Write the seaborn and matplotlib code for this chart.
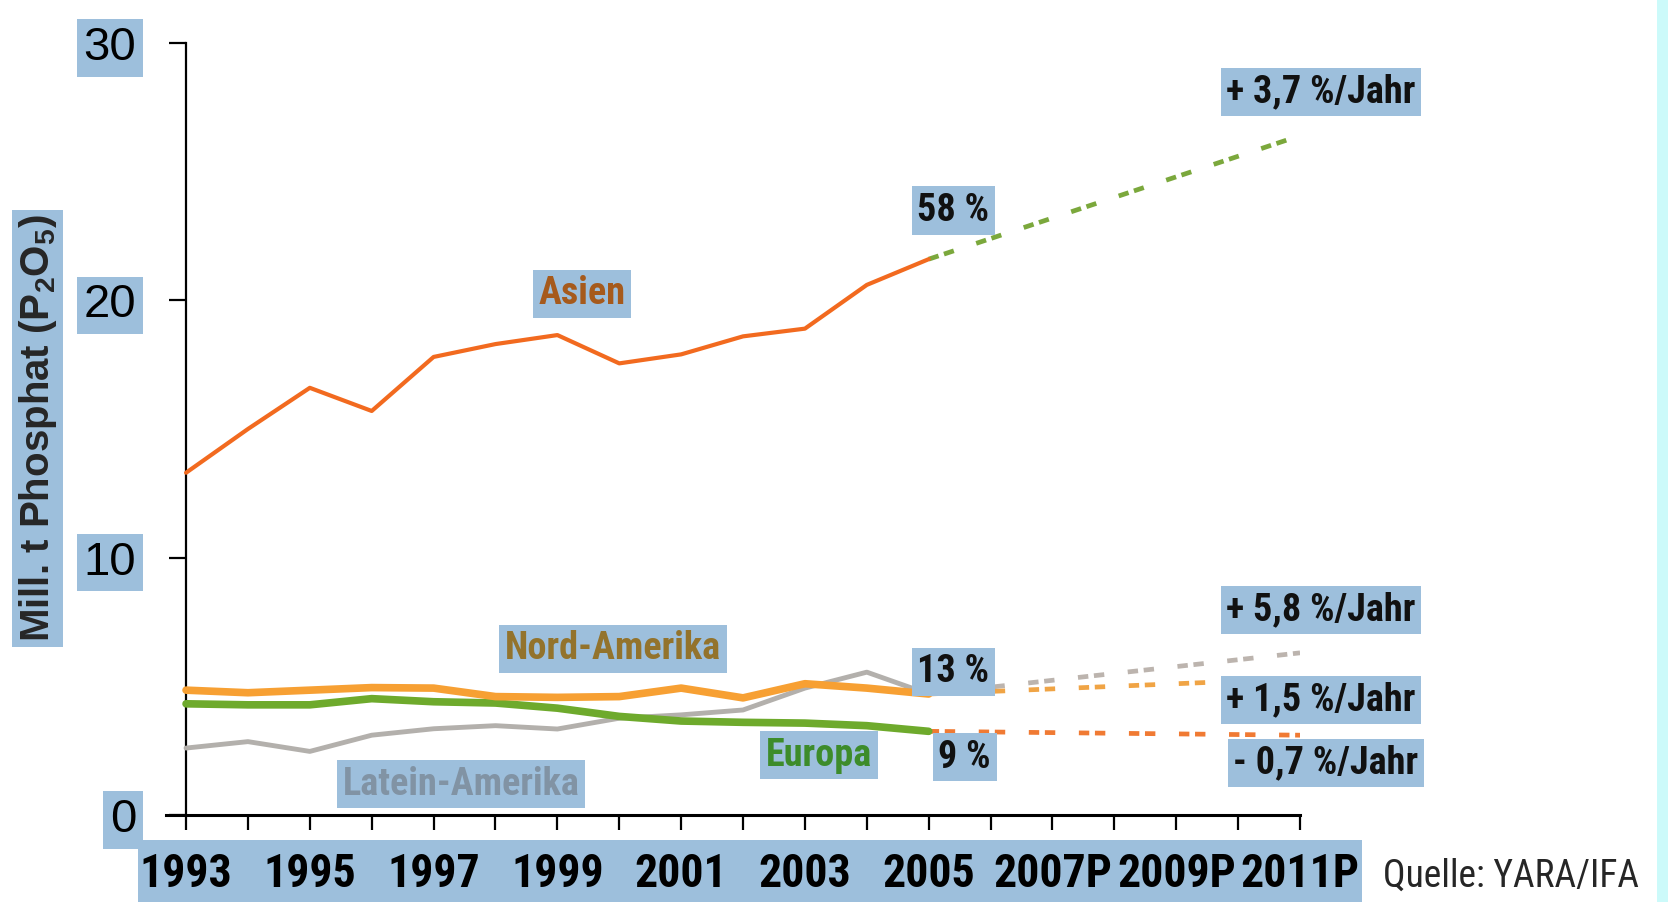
import matplotlib
matplotlib.use("Agg")
import matplotlib.pyplot as plt
import seaborn as sns
import pandas as pd
from matplotlib.patches import Rectangle

# Daten (Mill. t P2O5)
years = list(range(1993, 2006))
asien = [13.3, 15.0, 16.6, 15.7, 17.8, 18.3, 18.65, 17.55, 17.9, 18.6, 18.9, 20.6, 21.6]
nord_amerika = [4.85, 4.75, 4.85, 4.95, 4.93, 4.6, 4.57, 4.6, 4.93, 4.55, 5.1, 4.93, 4.7]
europa = [4.32, 4.28, 4.28, 4.52, 4.4, 4.35, 4.15, 3.83, 3.65, 3.6, 3.57, 3.47, 3.25]
latein_amerika = [2.6, 2.85, 2.47, 3.1, 3.35, 3.47, 3.34, 3.76, 3.89, 4.08, 4.93, 5.55, 4.7]

# Prognose 2005 -> 2011P
forecast_years = [2005, 2011]
asien_fc = [21.6, 26.4]
latein_fc = [4.7, 6.3]
nord_fc = [4.7, 5.3]
europa_fc = [3.25, 3.1]

tick_years = list(range(1993, 2012))
tick_labels = ["1993", "", "1995", "", "1997", "", "1999", "", "2001", "",
               "2003", "", "2005", "", "2007P", "", "2009P", "", "2011P"]
y_ticks = [0, 10, 20, 30]

box_blue = "#9dbfdc"
narrow = ["Roboto Condensed", "DejaVu Sans"]

sns.set_style("ticks")
plt.rcParams["font.family"] = ["Liberation Sans", "DejaVu Sans"]

fig = plt.figure(figsize=(16.68, 9.02), dpi=100)
ax = fig.add_axes([0.0993, 0.0965, 0.6801, 0.8558])

hist = pd.DataFrame({
    "Jahr": years * 4,
    "Wert": asien + nord_amerika + europa + latein_amerika,
    "Region": (["Asien"] * len(years) + ["Nord-Amerika"] * len(years)
               + ["Europa"] * len(years) + ["Latein-Amerika"] * len(years)),
})
fc = pd.DataFrame({
    "Jahr": forecast_years * 4,
    "Wert": asien_fc + latein_fc + nord_fc + europa_fc,
    "Region": (["Asien"] * 2 + ["Latein-Amerika"] * 2
               + ["Nord-Amerika"] * 2 + ["Europa"] * 2),
})

line_colors = {"Asien": "#f26a1f", "Nord-Amerika": "#f7a033",
               "Europa": "#6eaa2c", "Latein-Amerika": "#b3b0ac"}
line_widths = {"Asien": 3.0, "Nord-Amerika": 5.5,
               "Europa": 5.5, "Latein-Amerika": 3.5}
fc_colors = {"Asien": "#7ba83c", "Nord-Amerika": "#f0a445",
             "Europa": "#f07a33", "Latein-Amerika": "#bcb4ae"}

for region in ["Latein-Amerika", "Europa", "Nord-Amerika", "Asien"]:
    sns.lineplot(data=hist[hist["Region"] == region], x="Jahr", y="Wert",
                 color=line_colors[region], linewidth=line_widths[region],
                 ax=ax, legend=False, zorder=3)

for region in ["Latein-Amerika", "Nord-Amerika", "Europa", "Asien"]:
    sns.lineplot(data=fc[fc["Region"] == region], x="Jahr", y="Wert",
                 color=fc_colors[region], linewidth=3.4,
                 linestyle=(0, (2.2, 1.2, 2.2, 5)),
                 ax=ax, legend=False, zorder=2)

ax.set_xlim(1992.67, 2011)
ax.set_ylim(0, 30)
sns.despine(ax=ax)
ax.spines["left"].set_position(("data", 1993))
ax.spines["left"].set_linewidth(1.6)
ax.spines["bottom"].set_linewidth(2.2)
ax.spines["left"].set_color("black")
ax.spines["bottom"].set_color("black")

ax.set_xticks(tick_years)
ax.set_xticklabels(tick_labels)
ax.tick_params(axis="x", direction="out", length=11, width=1.6,
               pad=16, colors="black")
for lab in ax.get_xticklabels():
    lab.set_family(narrow)
    lab.set_fontweight("bold")
    lab.set_fontsize(33)

ax.set_yticks(y_ticks)
ax.set_yticklabels([str(v) for v in y_ticks])
ax.tick_params(axis="y", direction="out", length=12, width=1.6,
               pad=24, colors="black", labelsize=34)
for lab in ax.get_yticklabels():
    lab.set_bbox(dict(boxstyle="square,pad=0.14", fc=box_blue, ec="none"))

ax.set_xlabel("")
ax.set_ylabel("")

# Beschriftung y-Achse
fig.text(0.0225, 0.525, "Mill. t Phosphat (P$_\\mathregular{2}$O$_\\mathregular{5}$)",
         rotation=90, ha="center", va="center", fontsize=29, fontweight="bold",
         bbox=dict(boxstyle="square,pad=0.12", fc=box_blue, ec="none"))

# blauer Streifen hinter den Jahreszahlen
fig.patches.append(Rectangle((0.0827, 0.0), 0.734, 0.0687,
                             transform=fig.transFigure, fc=box_blue,
                             ec="none", zorder=-1))
# Rand rechts
fig.patches.append(Rectangle((0.9934, 0.0), 0.0066, 1.0,
                             transform=fig.transFigure, fc="#ccfafa",
                             ec="none", zorder=-1))

box = dict(boxstyle="square,pad=0.15", fc=box_blue, ec="none")
labels = [
    (1999.4, 20.25, "Asien", "#a65a1c"),
    (1999.9, 6.45, "Nord-Amerika", "#93732c"),
    (1997.44, 1.2, "Latein-Amerika", "#8193a4"),
    (2003.23, 2.33, "Europa", "#3d8c2a"),
    (2005.4, 23.5, "58 %", "#111111"),
    (2005.4, 5.56, "13 %", "#111111"),
    (2005.58, 2.25, "9 %", "#111111"),
    (2011.34, 28.1, "+ 3,7 %/Jahr", "#111111"),
    (2011.34, 7.97, "+ 5,8 %/Jahr", "#111111"),
    (2011.34, 4.47, "+ 1,5 %/Jahr", "#111111"),
    (2011.42, 2.02, "- 0,7 %/Jahr", "#111111"),
]
for x, y, txt, col in labels:
    ax.text(x, y, txt, ha="center", va="center", fontsize=27.5,
            fontweight="bold", color=col, family=narrow, bbox=box,
            clip_on=False, zorder=5)

fig.text(0.829, 0.008, "Quelle: YARA/IFA", ha="left", va="bottom",
         fontsize=27, family=narrow)

fig.savefig("out.png", dpi=100)
